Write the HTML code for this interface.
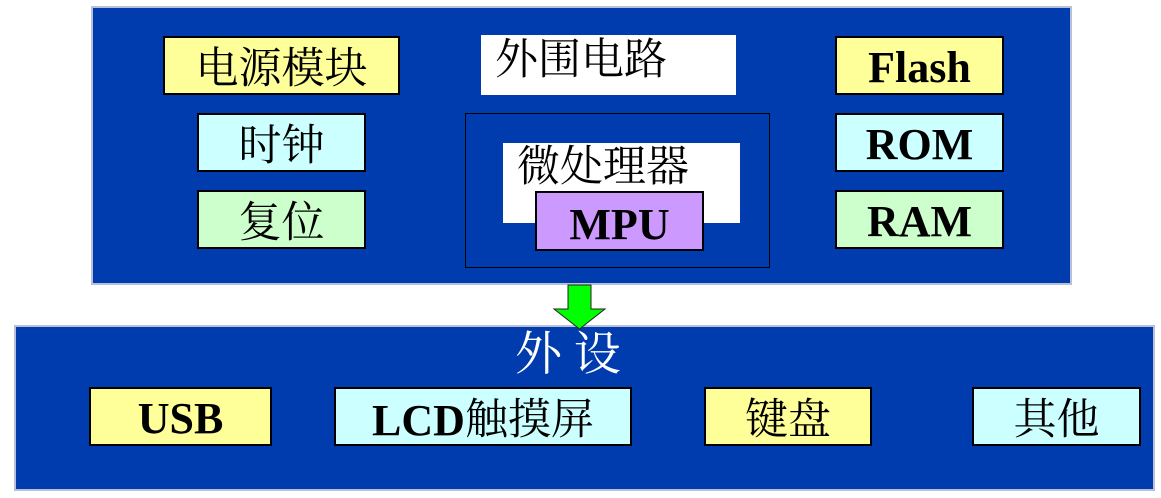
<!DOCTYPE html>
<html><head><meta charset="utf-8"><style>
body{margin:0;width:1161px;height:498px;background:#fff;position:relative;overflow:hidden;font-family:"Liberation Serif","Noto Serif CJK SC",serif;}
div{position:absolute;box-sizing:border-box;}
.panel{background:#003CAE;border:2px solid #b8c0d8;}
.b{border:2px solid #000;display:flex;align-items:center;justify-content:center;font-size:43px;color:#000;line-height:1;padding-top:8px;}
.y{background:#FFFF99}.c{background:#CCFFFF}.g{background:#CCFFCC}
.lat{font-weight:bold;font-size:44px;padding-top:4px;}
</style></head><body>
<div class="panel" style="left:91px;top:6px;width:981px;height:279px"></div>
<div class="b y" style="left:163px;top:36px;width:237px;height:59px">电源模块</div>
<div class="b c" style="left:197px;top:113px;width:169px;height:59px">时钟</div>
<div class="b g" style="left:197px;top:190px;width:169px;height:59px">复位</div>
<div style="left:481px;top:35px;width:255px;height:60px;background:#fff;font-size:43px;line-height:1;padding:4px 0 0 14px">外围电路</div>
<div style="left:465px;top:113px;width:305px;height:155px;border:1.5px solid #000"></div>
<div style="left:503px;top:143px;width:237px;height:80px;background:#fff;font-size:43px;line-height:1;padding:3px 0 0 14px">微处理器</div>
<div class="b lat" style="left:535px;top:191px;width:169px;height:60px;background:#CC99FF;padding-top:8px">MPU</div>
<div class="b y lat" style="left:835px;top:36px;width:169px;height:59px">Flash</div>
<div class="b c lat" style="left:835px;top:113px;width:169px;height:59px">ROM</div>
<div class="b g lat" style="left:835px;top:190px;width:169px;height:59px">RAM</div>
<div class="panel" style="left:14px;top:325px;width:1141px;height:166px"></div>
<svg style="position:absolute;left:550px;top:284px" width="60" height="50"><polygon points="18,1 41,1 41,25 55,25 29.5,45 4,25 18,25" fill="#00FF00" stroke="#222" stroke-width="1"/></svg>
<div style="left:515px;top:332px;color:#fff;font-size:47px;line-height:1;white-space:pre">外 设</div>
<div class="b y lat" style="left:89px;top:387px;width:183px;height:59px">USB</div>
<div class="b c" style="left:334px;top:387px;width:298px;height:59px"><b style="font-size:44px">LCD</b>触摸屏</div>
<div class="b y" style="left:704px;top:387px;width:168px;height:59px">键盘</div>
<div class="b c" style="left:972px;top:387px;width:169px;height:59px">其他</div>
</body></html>
